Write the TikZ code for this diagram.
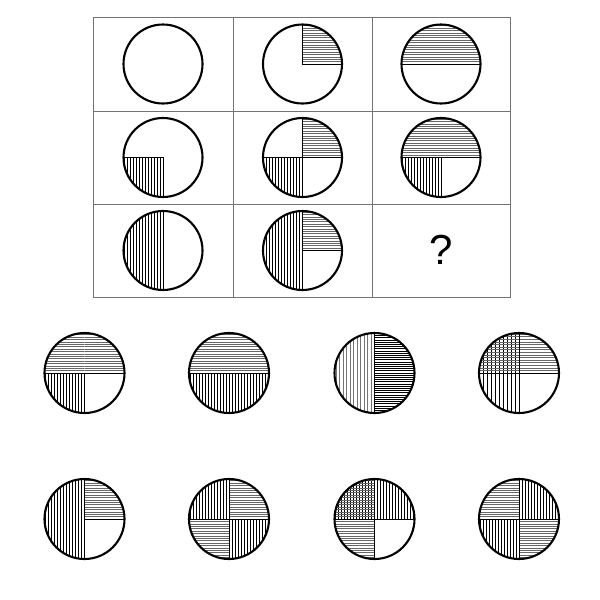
\documentclass[tikz,border=0pt]{standalone}
\usepackage{fontspec}
\setmainfont{Liberation Sans}
\tikzset{
 gridline/.style={draw=black!55, line width=0.9pt},
 ring/.style={draw=black, line width=2.1pt},
 edge/.style={draw=black, line width=0.8pt},
 vh/.style={draw=black, line width=0.95pt},
 hh/.style={draw=black!60, line width=0.55pt},
 lv/.style={draw=black!55, line width=0.5pt},
 dh/.style={draw=black, line width=0.85pt},
}
% vertical lines in one quadrant: cx, cy, r, sx, sy, spacing, style
\newcommand{\QV}[7]{%
 \begin{scope}
  \clip (#1,#2) circle (#3);
  \clip (#1,#2) rectangle ++({#4*(#3+2)},{#5*(#3+2)});
  \pgfmathtruncatemacro{\nn}{#3/#6+1}
  \foreach \k in {0,...,\nn} {\draw[#7] ({#1+#4*\k*#6},#2) -- ({#1+#4*\k*#6},{#2+#5*(#3+2)});}
 \end{scope}}
% horizontal lines in one quadrant
\newcommand{\QH}[7]{%
 \begin{scope}
  \clip (#1,#2) circle (#3);
  \clip (#1,#2) rectangle ++({#4*(#3+2)},{#5*(#3+2)});
  \pgfmathtruncatemacro{\nn}{#3/#6+1}
  \foreach \k in {0,...,\nn} {\draw[#7] (#1,{#2+#5*\k*#6}) -- ({#1+#4*(#3+2)},{#2+#5*\k*#6});}
 \end{scope}}
\newcommand{\Ring}[3]{\draw[ring] (#1,#2) circle (#3);}
\newcommand{\Cross}[3]{\draw[edge] ({#1-#3},#2) -- ({#1+#3},#2); \draw[edge] (#1,{#2-#3}) -- (#1,{#2+#3});}
\newcommand{\HDiam}[3]{\draw[edge] ({#1-#3},#2) -- ({#1+#3},#2);}
\newcommand{\VDiam}[3]{\draw[edge] (#1,{#2-#3}) -- (#1,{#2+#3});}
\begin{document}
\begin{tikzpicture}[x=1pt,y=-1pt]
\useasboundingbox (0,0) rectangle (600,600);
\fill[white] (0,0) rectangle (600,600);
% grid
\draw[gridline] (93,17) rectangle (510,297);
\draw[gridline] (233,17) -- (233,297);
\draw[gridline] (372,17) -- (372,297);
\draw[gridline] (93,111) -- (510,111);
\draw[gridline] (93,204) -- (510,204);
% row 1
\Ring{163}{64}{39.5}
\QH{302.5}{64}{39.5}{1}{-1}{2.4}{hh}
\draw[edge] (302.5,24.5) -- (302.5,64) -- (342,64);
\Ring{302.5}{64}{39.5}
\QH{441}{64}{39.5}{1}{-1}{2.4}{hh}
\QH{441}{64}{39.5}{-1}{-1}{2.4}{hh}
\HDiam{441}{64}{39.5}
\Ring{441}{64}{39.5}
% row 2
\QV{163}{157.5}{39.5}{-1}{1}{3}{vh}
\draw[edge] (123.5,157.5) -- (163,157.5) -- (163,197);
\Ring{163}{157.5}{39.5}
\QH{302.5}{157.5}{39.5}{1}{-1}{2.4}{hh}
\QV{302.5}{157.5}{39.5}{-1}{1}{3}{vh}
\Cross{302.5}{157.5}{39.5}
\Ring{302.5}{157.5}{39.5}
\QH{441}{157.5}{39.5}{1}{-1}{2.4}{hh}
\QH{441}{157.5}{39.5}{-1}{-1}{2.4}{hh}
\QV{441}{157.5}{39.5}{-1}{1}{3}{vh}
\HDiam{441}{157.5}{39.5}
\draw[edge] (441,157.5) -- (441,197);
\Ring{441}{157.5}{39.5}
% row 3
\QV{163}{250.5}{39.5}{-1}{1}{3}{vh}
\QV{163}{250.5}{39.5}{-1}{-1}{3}{vh}
\VDiam{163}{250.5}{39.5}
\Ring{163}{250.5}{39.5}
\QV{302.5}{250.5}{39.5}{-1}{1}{3}{vh}
\QV{302.5}{250.5}{39.5}{-1}{-1}{3}{vh}
\QH{302.5}{250.5}{39.5}{1}{-1}{2.4}{hh}
\VDiam{302.5}{250.5}{39.5}
\draw[edge] (302.5,250.5) -- (342,250.5);
\Ring{302.5}{250.5}{39.5}
\node (q) at (441,250) {\fontsize{42}{42}\selectfont ?};
% options row 1
\QH{84.5}{373}{40}{1}{-1}{2.4}{hh}
\QH{84.5}{373}{40}{-1}{-1}{2.4}{hh}
\QV{84.5}{373}{40}{-1}{1}{3}{vh}
\HDiam{84.5}{373}{40}
\draw[edge] (84.5,373) -- (84.5,413);
\Ring{84.5}{373}{40}
\QH{229}{373}{40}{1}{-1}{2.4}{hh}
\QH{229}{373}{40}{-1}{-1}{2.4}{hh}
\QV{229}{373}{40}{-1}{1}{3}{vh}
\QV{229}{373}{40}{1}{1}{3}{vh}
\HDiam{229}{373}{40}
\Ring{229}{373}{40}
\QV{374.5}{373}{40}{-1}{-1}{3.5}{lv}
\QV{374.5}{373}{40}{-1}{1}{3.5}{lv}
\QH{374.5}{373}{40}{1}{-1}{2.2}{dh}
\QH{374.5}{373}{40}{1}{1}{2.2}{dh}
\VDiam{374.5}{373}{40}
\Ring{374.5}{373}{40}
\QV{519}{373}{40}{-1}{-1}{4}{vh}
\QV{519}{373}{40}{-1}{1}{4}{vh}
\QH{519}{373}{40}{-1}{-1}{2.6}{hh}
\QH{519}{373}{40}{1}{-1}{2.6}{hh}
\Cross{519}{373}{40}
\Ring{519}{373}{40}
% options row 2
\QV{84.5}{519}{40}{-1}{-1}{3}{vh}
\QV{84.5}{519}{40}{-1}{1}{3}{vh}
\QH{84.5}{519}{40}{1}{-1}{2.4}{hh}
\VDiam{84.5}{519}{40}
\draw[edge] (84.5,519) -- (124.5,519);
\Ring{84.5}{519}{40}
\QV{229}{519}{40}{-1}{-1}{3}{vh}
\QH{229}{519}{40}{1}{-1}{2.4}{hh}
\QH{229}{519}{40}{-1}{1}{2.4}{hh}
\QV{229}{519}{40}{1}{1}{3}{vh}
\Cross{229}{519}{40}
\Ring{229}{519}{40}
\QV{374.5}{519}{40}{-1}{-1}{3}{vh}
\QH{374.5}{519}{40}{-1}{-1}{2.4}{hh}
\QV{374.5}{519}{40}{1}{-1}{3}{vh}
\QH{374.5}{519}{40}{-1}{1}{2.4}{hh}
\Cross{374.5}{519}{40}
\Ring{374.5}{519}{40}
\QH{519}{519}{40}{-1}{-1}{2.4}{hh}
\QV{519}{519}{40}{1}{-1}{3}{vh}
\QV{519}{519}{40}{-1}{1}{3}{vh}
\QH{519}{519}{40}{1}{1}{2.4}{hh}
\Cross{519}{519}{40}
\Ring{519}{519}{40}
\end{tikzpicture}
\end{document}
